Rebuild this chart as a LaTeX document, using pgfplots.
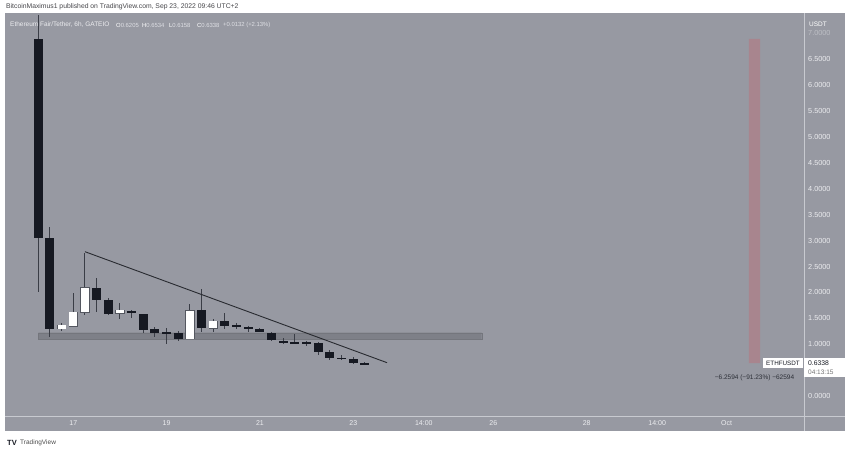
\documentclass[border=0pt]{standalone}
\usepackage{fontspec}
\setmainfont{Liberation Sans}
\usepackage{pgfplots}
\pgfplotsset{compat=1.18}
\usepackage{pgfplotstable}

\definecolor{panel}{RGB}{151,153,162}
\definecolor{sepc}{RGB}{200,202,208}
\definecolor{candledark}{RGB}{22,25,34}
\definecolor{wickc}{RGB}{58,61,70}
\definecolor{outlinec}{RGB}{84,87,96}
\definecolor{bandc}{RGB}{126,128,136}
\definecolor{pinkc}{RGB}{168,133,142}
\definecolor{lbl}{RGB}{236,237,240}
\definecolor{lbl2}{RGB}{222,223,228}
\definecolor{toptext}{RGB}{70,70,74}
\definecolor{trendc}{RGB}{40,42,48}

% 6h candles, t in days of September 2022 (candle open time)
\pgfplotstableread{
t O H L C
16.25 6.886 7.36 2.01 3.056
16.50 3.056 3.256 1.145 1.293
17.50 2.09 2.28 1.63 1.853
17.75 1.853 1.886 1.557 1.577
18.25 1.647 1.66 1.51 1.596
18.50 1.583 1.59 1.21 1.274
18.75 1.287 1.326 1.133 1.222
19.00 1.236 1.319 1.004 1.197
19.25 1.21 1.255 1.068 1.094
19.75 1.66 2.06 1.241 1.319
20.25 1.442 1.608 1.287 1.351
20.50 1.365 1.403 1.30 1.326
20.75 1.332 1.35 1.236 1.293
21.00 1.30 1.31 1.23 1.241
21.25 1.222 1.23 1.07 1.081
21.50 1.068 1.12 1.01 1.023
21.75 1.03 1.19 1.01 1.017
22.00 1.037 1.06 0.965 1.01
22.25 1.017 1.05 0.79 0.855
22.50 0.849 0.888 0.695 0.733
22.75 0.74 0.79 0.70 0.714
23.00 0.714 0.76 0.618 0.643
23.25 0.6338 0.6534 0.6158 0.6205
}\downc
\pgfplotstableread{
t O H L C
16.75 1.30 1.40 1.26 1.364
17.00 1.351 1.995 1.326 1.615
17.25 1.62 2.755 1.57 2.09
18.00 1.596 1.79 1.48 1.654
19.50 1.107 1.776 1.094 1.647
20.00 1.307 1.48 1.236 1.442
}\upc

\begin{document}
\begin{tikzpicture}[x=1pt,y=1pt]
\useasboundingbox (0,0) rectangle (850,453);
\fill[white] (0,0) rectangle (850,453);
\fill[panel] (5,22) rectangle (845,440);
\draw[sepc, line width=0.8pt] (5,37) -- (845,37);
\draw[sepc, line width=0.8pt] (804,22) -- (804,440);

\begin{axis}[
  at={(5pt,37pt)}, anchor=south west, scale only axis,
  width=799pt, height=403pt,
  xmin=15.5365, xmax=32.657, ymin=-0.3861, ymax=7.394,
  axis line style={draw=none},
  major tick style={draw=none},
  minor tick style={draw=none},
  ytick={0,1,1.5,2,2.5,3,3.5,4,4.5,5,5.5,6,6.5},
  yticklabels={0.0000,1.0000,1.5000,2.0000,2.5000,3.0000,3.5000,4.0000,4.5000,5.0000,5.5000,6.0000,6.5000},
  extra y ticks={7},
  extra y tick labels={7.0000},
  extra y tick style={yticklabel style={text opacity=0.45}},
  yticklabel pos=right,
  yticklabel style={anchor=west, inner sep=0pt, xshift=4pt, font=\fontsize{7.3}{8}\selectfont, text=lbl},
  xtick={17,19,21,23,24.51,26,28,29.51,31},
  xticklabels={17,19,21,23,14:00,26,28,14:00,Oct},
  xticklabel style={anchor=center, inner sep=0pt, yshift=-7pt, font=\fontsize{7}{8}\selectfont, text=lbl},
  clip=true,
]
% support band
\addplot[fill=bandc, draw=bandc!92!black, line width=0.3pt, forget plot]
  coordinates {(16.25,1.094) (25.75,1.094) (25.75,1.222) (16.25,1.222) (16.25,1.094)};
% wicks
\addplot[draw=none, mark=none, forget plot,
  error bars/.cd, y dir=both, y explicit, error mark=none,
  error bar style={draw=wickc, solid, line width=1pt}]
  table[x=t, y expr={(\thisrow{H}+\thisrow{L})/2}, y error expr={(\thisrow{H}-\thisrow{L})/2}] {\downc};
\addplot[draw=none, mark=none, forget plot,
  error bars/.cd, y dir=both, y explicit, error mark=none,
  error bar style={draw=wickc, solid, line width=1pt}]
  table[x=t, y expr={(\thisrow{H}+\thisrow{L})/2}, y error expr={(\thisrow{H}-\thisrow{L})/2}] {\upc};
% down bodies
\addplot[draw=none, mark=none, forget plot,
  error bars/.cd, y dir=both, y explicit, error mark=none,
  error bar style={draw=candledark, solid, line width=9pt}]
  table[x=t, y expr={(\thisrow{O}+\thisrow{C})/2}, y error expr={max(abs(\thisrow{O}-\thisrow{C})/2,0.011)}] {\downc};
% up bodies: outline then white fill
\addplot[draw=none, mark=none, forget plot,
  error bars/.cd, y dir=both, y explicit, error mark=none,
  error bar style={draw=outlinec, solid, line width=9.4pt}]
  table[x=t, y expr={(\thisrow{O}+\thisrow{C})/2}, y error expr={max(abs(\thisrow{O}-\thisrow{C})/2,0.006)+0.012}] {\upc};
\addplot[draw=none, mark=none, forget plot,
  error bars/.cd, y dir=both, y explicit, error mark=none,
  error bar style={draw=white, solid, line width=7.8pt}]
  table[x=t, y expr={(\thisrow{O}+\thisrow{C})/2}, y error expr={max(abs(\thisrow{O}-\thisrow{C})/2,0.006)}] {\upc};
% trend line
\addplot[trendc, line width=0.9pt, forget plot] coordinates {(17.25,2.786) (23.723,0.643)};
% price range measure
\addplot[fill=pinkc, draw=none, forget plot]
  coordinates {(31.478,0.6338) (31.714,0.6338) (31.714,6.8932) (31.478,6.8932) (31.478,0.6338)};
\end{axis}

% top caption
\node[anchor=west, inner sep=0pt, text=toptext, font=\fontsize{6.8}{7}\selectfont] at (6,446)
  {BitcoinMaximus1 published on TradingView.com, Sep 23, 2022 09:46 UTC+2};
% legend line
\begin{scope}[every node/.style={anchor=west, inner sep=0pt, font=\fontsize{6.5}{7}\selectfont}]
\node[text=lbl] at (10,428) {Ethereum Fair/Tether, 6h, GATEIO};
\end{scope}
\begin{scope}[every node/.style={anchor=west, inner sep=0pt, font=\fontsize{5.9}{7}\selectfont}]
\node at (116,428) {\textcolor{white}{O}\textcolor{lbl2}{0.6205}};
\node at (142,428) {\textcolor{white}{H}\textcolor{lbl2}{0.6534}};
\node at (169,428) {\textcolor{white}{L}\textcolor{lbl2}{0.6158}};
\node at (197,428) {\textcolor{white}{C}\textcolor{lbl2}{0.6338}};
\node[text=lbl2] at (223,428) {+0.0132 (+2.13\%)};
\end{scope}
% price scale header
\node[anchor=west, inner sep=0pt, text=white, font=\fontsize{6.5}{7}\selectfont] at (809,429) {USDT};
% last price labels
\node[fill=white, inner sep=0pt, minimum width=40pt, minimum height=10pt, text=candledark, font=\fontsize{6.3}{7}\selectfont] at (783,90) {ETHFUSDT};
\fill[white] (804.4,76) rectangle (845,95);
\node[anchor=west, inner sep=0pt, text=candledark, font=\fontsize{6.8}{7}\selectfont] at (808,90) {0.6338};
\node[anchor=west, inner sep=0pt, text=black!55, font=\fontsize{6.5}{7}\selectfont] at (808,81) {04:13:15};
% measure text
\node[inner sep=0pt, text=candledark!90, font=\fontsize{6.5}{7}\selectfont] at (754.5,75.5) {−6.2594 (−91.23\%) −62594};
% footer logo
\node[anchor=west, inner sep=0pt, text=candledark, font=\bfseries\fontsize{7.5}{8}\selectfont] at (7,10) {TV};
\node[anchor=west, inner sep=0pt, text=black!70, font=\fontsize{6.5}{7}\selectfont] at (20,10) {TradingView};
\end{tikzpicture}
\end{document}
